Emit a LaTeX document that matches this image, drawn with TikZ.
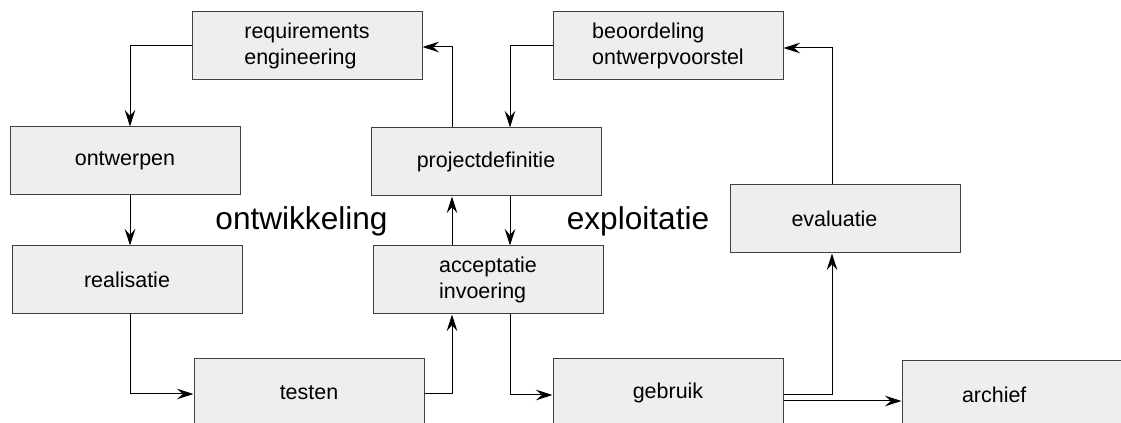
\documentclass[tikz,border=0pt]{standalone}
\usepackage{fontspec}
\setmainfont{Liberation Sans}
\usetikzlibrary{arrows.meta}
\usetikzlibrary{calc}
\definecolor{boxgray}{RGB}{238,238,238}
\tikzset{
  box/.style={draw=black!75, fill=boxgray, minimum width=172.5pt, minimum height=51pt,
    align=left, font=\fontsize{16.1pt}{19.8pt}\selectfont},
  phase/.style={anchor=base, font=\fontsize{23.7pt}{28pt}\selectfont},
  arr/.style={-{Stealth[length=12.5pt,width=8pt,inset=4.5pt]}}
}

\begin{document}
\begin{tikzpicture}[x=0.75pt, y=-0.75pt, line width=0.75pt]
        \useasboundingbox (0,0) rectangle (1121,423);
        % ontwikkeling
        \node[box] (req) at (307,46) {requirements\\engineering};
        \node[box] (ontw) at (125,161) {ontwerpen};
        \node[box] (real) at (127,280) {realisatie};
        \node[box] (test) at (309,393) {testen};
        \node[box] (projdef) at (486,162) {projectdefinitie};
        \node[box] (accept) at (488,280) {acceptatie\\invoering};
        % exploitatie
        \node[box] (beoord) at (668,46) {beoordeling\\ontwerpvoorstel};
        \node[box, inner xsep=45.75pt, text width=81pt] (eval) at (845.5,219) {evaluatie};
        \node[box] (gebr) at (668,393) {gebruik};
        \node[box, inner xsep=45pt, text width=82.5pt] (archief) at (1017,395) {archief};
        \node[phase] (ontwlbl) at (301.5,229.5) {ontwikkeling};
        \node[phase] (expllbl) at (638,230) {exploitatie};
        % connectors
        \draw[arr] (req.west) -| ($(ontw.north)+(5,0)$);
        \draw[arr] ($(ontw.south)+(5,0)$) -- ($(real.north)+(3,0)$);
        \draw[arr] ($(real.south)+(3,0)$) |- ($(test.west)+(0,1)$);
        \draw[arr] ($(test.east)+(0,1)$) -| ($(accept.south)+(-36,0)$);
        \draw[arr] ($(accept.north)+(-36,0)$) -- ($(projdef.south)+(-34,0)$);
        \draw[arr] ($(projdef.north)+(-34,0)$) |- ($(req.east)+(0,1)$);
        \draw[arr] (beoord.west) -| ($(projdef.north)+(24,0)$);
        \draw[arr] ($(projdef.south)+(24,0)$) -- ($(accept.north)+(22,0)$);
        \draw[arr] ($(accept.south)+(22,0)$) |- ($(gebr.west)+(0,2)$);
        \draw[arr] ($(gebr.east)+(0,2)$) -| ($(eval.south)+(-13.5,0)$);
        \draw[arr] ($(eval.north)+(-13.5,0)$) |- ($(beoord.east)+(0,2)$);
        \draw[arr] ($(gebr.east)+(0,8)$) -- ($(archief.west)+(0,6)$);
\end{tikzpicture}
\end{document}
